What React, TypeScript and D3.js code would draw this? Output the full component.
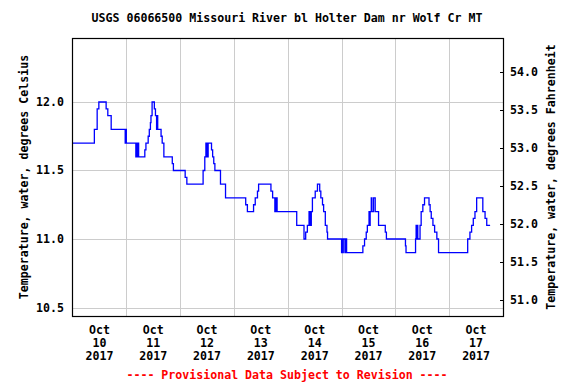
import * as d3 from "d3";

// hours after 2017-10-10 00:00, water temperature (deg C) at each change
const hours = [
  0, 9.75, 11.0, 11.75, 15.0, 15.75, 17.25, 23.5, 23.75, 24.0,
  28.25, 28.5, 28.75, 29.0, 29.5, 32.25, 32.75, 33.75, 34.25, 34.75,
  35.0, 35.5, 36.5, 37.0, 37.5, 37.75, 38.0, 39.5, 40.0, 40.75,
  44.5, 45.0, 50.25, 51.0, 58.25, 59.0, 59.5, 59.75, 60.0, 60.25,
  60.5, 62.0, 62.5, 63.0, 63.5, 66.0, 68.25, 77.25, 78.0, 80.75,
  81.5, 82.5, 83.0, 88.5, 89.25, 90.25, 90.5, 90.75, 91.0, 91.25,
  100.0, 103.25, 104.0, 104.75, 105.5, 105.75, 106.0, 106.25, 106.5, 107.0,
  108.25, 109.25, 110.25, 110.75, 111.5, 112.0, 112.75, 113.5, 113.75, 120.0,
  120.25, 120.5, 120.75, 121.5, 121.75, 122.25, 129.5, 130.25, 131.0, 131.5,
  132.25, 132.5, 132.75, 133.25, 133.5, 134.25, 135.0, 136.5, 139.5, 140.0,
  148.5, 148.75, 153.0, 153.25, 153.5, 153.75, 154.0, 155.0, 155.5, 156.25,
  157.0, 159.0, 159.5, 160.0, 160.75, 161.5, 162.5, 163.25, 176.25, 177.25,
  178.0, 178.75, 179.5, 180.25, 183.0, 184.0, 184.75, 186.25,
];
const tempC = [
  11.7, 11.8, 11.95, 12.0, 11.95, 11.9, 11.8, 11.7, 11.8, 11.7,
  11.6, 11.7, 11.6, 11.7, 11.6, 11.65, 11.7, 11.75, 11.8, 11.85,
  11.9, 12.0, 11.95, 11.9, 11.8, 11.9, 11.8, 11.75, 11.7, 11.6,
  11.55, 11.5, 11.45, 11.4, 11.5, 11.6, 11.7, 11.6, 11.7, 11.6,
  11.7, 11.65, 11.6, 11.55, 11.5, 11.4, 11.3, 11.25, 11.2, 11.25,
  11.3, 11.35, 11.4, 11.35, 11.3, 11.2, 11.3, 11.2, 11.3, 11.2,
  11.1, 11.0, 11.05, 11.1, 11.2, 11.1, 11.2, 11.1, 11.2, 11.3,
  11.35, 11.4, 11.35, 11.3, 11.25, 11.2, 11.1, 11.05, 11.0, 10.9,
  11.0, 10.9, 11.0, 10.9, 11.0, 10.9, 10.95, 11.0, 11.05, 11.1,
  11.2, 11.1, 11.2, 11.3, 11.2, 11.3, 11.2, 11.1, 11.05, 11.0,
  10.95, 10.9, 11.0, 11.1, 11.0, 11.1, 11.0, 11.1, 11.2, 11.25,
  11.3, 11.25, 11.2, 11.15, 11.1, 11.05, 11.0, 10.9, 11.0, 11.05,
  11.1, 11.15, 11.2, 11.3, 11.2, 11.15, 11.1, 11.1,
];

const dayLabels = ["10", "11", "12", "13", "14", "15", "16", "17"];
const celsiusTicks = [10.5, 11.0, 11.5, 12.0];
const fahrenheitTicks = [51.0, 51.5, 52.0, 52.5, 53.0, 53.5, 54.0];

const title = "USGS 06066500 Missouri River bl Holter Dam nr Wolf Cr MT";
const leftLabel = "Temperature, water, degrees Celsius";
const rightLabel = "Temperature, water, degrees Fahrenheit";
const footer = "---- Provisional Data Subject to Revision ----";

const W = 576;
const H = 384;
const left = 72;
const right = 503;
const top = 38;
const bottom = 316;
const font = "'DejaVu Sans Mono', monospace";

export default function App() {
  const x = d3.scaleLinear().domain([0, 24 * dayLabels.length]).range([left + 0.5, right]);
  const y = d3.scaleLinear().domain([10.438, 12.467]).range([bottom, top]);
  const toC = (f: number) => (f - 32) / 1.8;

  const pts: [number, number][] = hours.map((h, i) => [h, tempC[i]]);
  const line = d3
    .line<[number, number]>()
    .x((d) => x(d[0]))
    .y((d) => y(d[1]))
    .curve(d3.curveStepAfter);

  const gridDays = d3.range(1, dayLabels.length);

  return (
    <svg
      width={W}
      height={H}
      style={{ position: "absolute", left: 0, top: 0, background: "#fff" }}
      fontFamily={font}
      fontWeight="bold"
      fontSize={11.6}
    >
      <text x={287} y={22} textAnchor="middle">{title}</text>

      {gridDays.map((d) => (
        <line key={d} x1={Math.round(x(d * 24)) + 0.5} x2={Math.round(x(d * 24)) + 0.5} y1={top} y2={bottom} stroke="#cccccc" />
      ))}
      {celsiusTicks.map((t) => (
        <line key={t} x1={left} x2={right} y1={Math.round(y(t)) + 0.5} y2={Math.round(y(t)) + 0.5} stroke="#cccccc" />
      ))}

      <path d={line(pts) ?? ""} fill="none" stroke="#0000ff" strokeWidth={1.3} />

      <rect x={left + 0.5} y={top + 0.5} width={right - left} height={bottom - top} fill="none" stroke="#000" strokeWidth={1.2} />

      {celsiusTicks.map((t) => (
        <text key={t} x={64} y={y(t) + 4} textAnchor="end">{d3.format(".1f")(t)}</text>
      ))}
      {fahrenheitTicks.map((f) => (
        <g key={f}>
          <line x1={right - 3} x2={right} y1={Math.round(y(toC(f))) + 0.5} y2={Math.round(y(toC(f))) + 0.5} stroke="#000" />
          <text x={510} y={y(toC(f)) + 4}>{d3.format(".1f")(f)}</text>
        </g>
      ))}

      {dayLabels.map((d, i) => {
        const cx = x(i * 24 + 12);
        return (
          <text key={d} textAnchor="middle">
            <tspan x={cx} y={334}>Oct</tspan>
            <tspan x={cx} y={347}>{d}</tspan>
            <tspan x={cx} y={360}>2017</tspan>
          </text>
        );
      })}

      <text transform={`translate(28,${(top + bottom) / 2}) rotate(-90)`} textAnchor="middle">{leftLabel}</text>
      <text transform={`translate(555,${(top + bottom) / 2}) rotate(-90)`} textAnchor="middle">{rightLabel}</text>

      <text x={287} y={379} textAnchor="middle" fill="#ff0000">{footer}</text>
    </svg>
  );
}
